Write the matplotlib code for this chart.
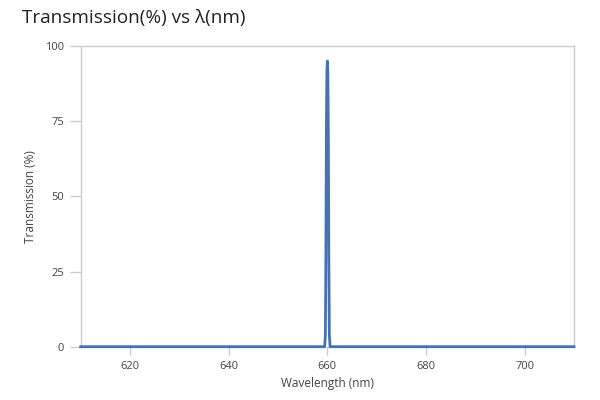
import matplotlib
matplotlib.use("Agg")
import matplotlib.pyplot as plt

wavelength = [610.0, 659.45, 659.6, 659.7, 659.8, 659.9, 660.0, 660.1, 660.2, 660.3, 660.4, 660.55, 710.0]
transmission = [0.0, 0.0, 4.0, 30.0, 72.0, 91.0, 95.0, 91.0, 72.0, 30.0, 4.0, 0.0, 0.0]
x_ticks = [620, 640, 660, 680, 700]
y_ticks = [0, 25, 50, 75, 100]

plt.rcParams['font.family'] = ['Open Sans', 'DejaVu Sans']

fig = plt.figure(figsize=(6, 4), dpi=100)
ax = fig.add_axes([0.1345, 0.1333, 0.8222, 0.7517])
ax.plot(wavelength, transmission, color='#4572b3', lw=2.0, solid_joinstyle='round', clip_on=False, zorder=3)
ax.set_xlim(610, 710)
ax.set_ylim(0, 100)
ax.set_xticks(x_ticks)
ax.set_yticks(y_ticks)
for s in ax.spines.values():
    s.set_color('#cccccc')
    s.set_linewidth(1.0)
ax.tick_params(axis='y', colors='#cccccc', labelcolor='#444444', labelsize=8, length=8, width=1, pad=4)
ax.tick_params(axis='x', colors='#cccccc', labelcolor='#444444', labelsize=8, length=6, width=1, pad=4)
for t in ax.xaxis.get_ticklines():
    t.set_linestyle((0, (1, 1)))
ax.set_xlabel('Wavelength (nm)', fontsize=8.5, color='#444444', labelpad=4)
ax.set_ylabel('Transmission (%)', fontsize=8.5, color='#444444', labelpad=6)
fig.text(0.037, 0.955, 'Transmission(%) vs λ(nm)', fontsize=13.6, color='#222222', va='center', ha='left')
fig.savefig('out.png', dpi=100)
